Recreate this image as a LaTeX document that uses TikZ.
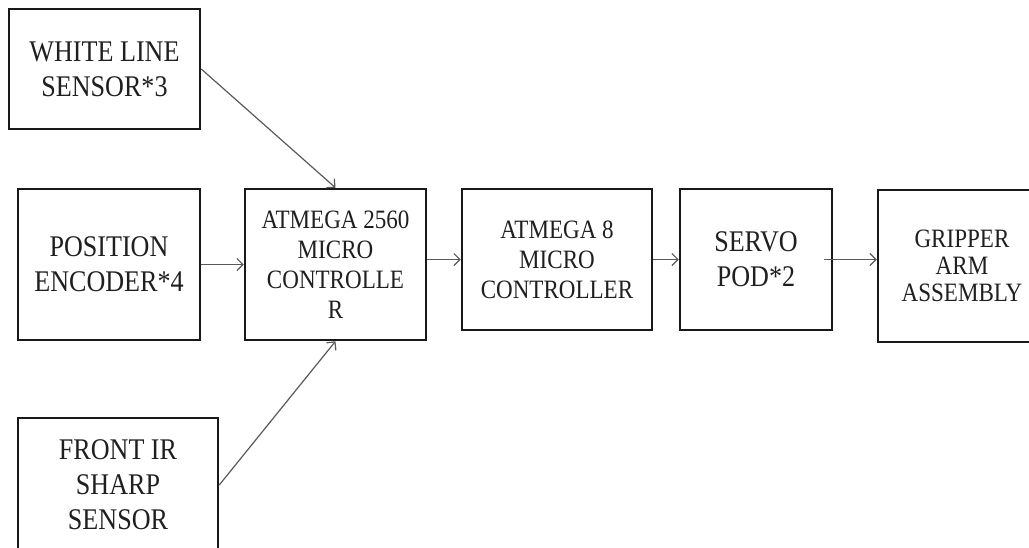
\documentclass[tikz,border=0pt]{standalone}
\usepackage{fontspec}
\setmainfont{Liberation Serif}[FakeStretch=0.87]
\usetikzlibrary{arrows.meta}
\begin{document}
\begin{tikzpicture}[x=1pt,y=-1pt,
  box/.style={draw=black!90, line width=2.5pt, inner sep=0pt, align=center, text=black!88},
  bigtext/.style={font=\fontsize{30}{35}\selectfont},
  midtext/.style={font=\fontsize{26.5}{30}\selectfont},
  smalltext/.style={font=\fontsize{26.5}{27}\selectfont},
  conn/.style={draw=black!65, line width=1.2pt, -{Straight Barb[length=6pt,width=12pt]}}]
\useasboundingbox (0,0) rectangle (1029,547);
\clip (0,0) rectangle (1029,547);
\node[box,bigtext,minimum width=191pt,minimum height=120pt] (wl) at (104.5,69) {WHITE LINE\\SENSOR*3};
\node[box,bigtext,minimum width=182pt,minimum height=151pt] (pe) at (109,264.5) {POSITION\\ENCODER*4};
\node[box,bigtext,minimum width=200pt,minimum height=134pt] (fir) at (118,485) {FRONT IR\\SHARP\\SENSOR};
\node[box,midtext,minimum width=181pt,minimum height=151pt] (a2560) at (335.5,264.5) {ATMEGA 2560\\MICRO\\CONTROLLE\\R};
\node[box,midtext,minimum width=190pt,minimum height=141pt] (a8) at (557,259.5) {ATMEGA 8\\MICRO\\CONTROLLER};
\node[box,bigtext,minimum width=152pt,minimum height=141pt] (servo) at (756,259.5) {SERVO\\POD*2};
\node[box,smalltext,minimum width=168pt,minimum height=152pt] (grip) at (962,266) {GRIPPER\\ARM\\ASSEMBLY};
\draw[conn] (wl.east) -- (a2560.north);
\draw[conn] (pe.east) -- (a2560.west);
\draw[conn] (fir.east) -- (a2560.south);
\draw[conn] (a2560.east |- a8.west) -- (a8.west);
\draw[conn] (a8.east) -- (servo.west);
\draw[conn] ([xshift=-9pt]servo.east) -- (grip.west |- servo.east);
\end{tikzpicture}
\end{document}
